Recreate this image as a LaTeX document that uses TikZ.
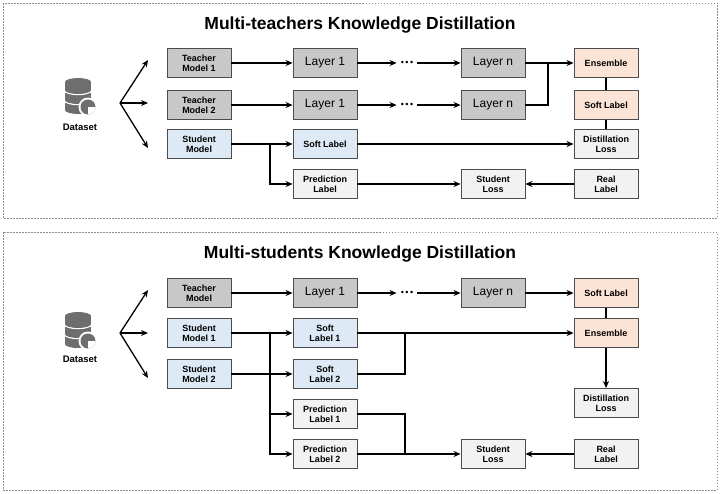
\documentclass[tikz,border=0pt]{standalone}
\usepackage{fontspec}
\setmainfont{Liberation Sans}
\usetikzlibrary{arrows.meta}
\definecolor{tgray}{HTML}{C8C8C8}
\definecolor{sblue}{HTML}{DDEAF6}
\definecolor{eorange}{HTML}{FBE4D5}
\definecolor{lgray}{HTML}{F2F2F2}
\definecolor{icon}{HTML}{6E6E6E}
\tikzset{
  box/.style={draw=black!70, line width=0.9pt, minimum width=64pt, minimum height=29pt, align=center, inner sep=1pt, font=\fontsize{9}{10}\selectfont\bfseries},
  teacher/.style={box, fill=tgray},
  layer/.style={box, fill=tgray, font=\fontsize{12}{13}\selectfont},
  student/.style={box, fill=sblue},
  orange/.style={box, fill=eorange},
  light/.style={box, fill=lgray},
  dots/.style={inner sep=4pt, font=\fontsize{9}{9}\selectfont},
  flow/.style={line width=1.3pt, -{Stealth[length=7pt,width=6pt]}},
  link/.style={line width=1.3pt},
  frame/.style={draw=black!45, dash pattern=on 1.5pt off 1.5pt, line width=0.7pt},
  title/.style={font=\fontsize{17.5}{18}\selectfont\bfseries}
}
\newcommand{\dbicon}[2]{%
  \begin{scope}[shift={(#1,#2)}]
    \foreach \dy in {8,-2,-12} {
      \draw[white, line width=2.4pt] (0,\dy+4) ellipse (13 and 4);
      \fill[icon] (-13,\dy-4) rectangle (13,\dy+4);
      \fill[icon] (0,\dy+4) ellipse (13 and 4);
      \fill[icon] (0,\dy-4) ellipse (13 and 4);
    }
    \fill[white] (10,9) circle (9.5);
    \fill[icon] (10,9) circle (7.5);
    \fill[white] (10,9) -- (17.5,9) arc (0:90:7.5) -- cycle;
  \end{scope}}
\begin{document}
\begin{tikzpicture}[x=1pt, y=-1pt]
\useasboundingbox (0,0) rectangle (720,493);
\fill[white] (0,0) rectangle (720,493);
\draw[frame] (3,3) rectangle (717,218);
\draw[frame] (3,232) rectangle (717,490);

% multi-teachers
\node[title] (tt) at (360,25) {Multi-teachers Knowledge Distillation};
\dbicon{78}{98}
\node[font=\fontsize{9.5}{10}\selectfont\bfseries] (ds1) at (80,127) {Dataset};
\coordinate (f1) at (120,103);
\coordinate (f1a) at (148,60);
\coordinate (f1b) at (148,103);
\coordinate (f1c) at (148,148);
\draw[flow] (f1) -- (f1a);
\draw[flow] (f1) -- (f1b);
\draw[flow] (f1) -- (f1c);

\node[teacher] (tm1) at (199,63) {Teacher\\Model 1};
\node[layer] (la1) at (325,63) {Layer 1};
\node[dots] (dt1) at (407,63) {\textbullet\,\textbullet\,\textbullet};
\node[layer] (ln1) at (493,63) {Layer n};
\node[orange] (ens1) at (606,63) {Ensemble};
\node[teacher] (tm2) at (199,105) {Teacher\\Model 2};
\node[layer] (la2) at (325,105) {Layer 1};
\node[dots] (dt2) at (407,105) {\textbullet\,\textbullet\,\textbullet};
\node[layer] (ln2) at (493,105) {Layer n};
\node[orange] (sl1) at (606,105) {Soft Label};
\node[student] (sm) at (199,144) {Student\\Model};
\node[student] (ss) at (325,144) {Soft Label};
\node[light] (dl1) at (606,144) {Distillation\\Loss};
\node[light] (pl) at (325,184) {Prediction\\Label};
\node[light] (sls1) at (493,184) {Student\\Loss};
\node[light] (rl1) at (606,184) {Real\\Label};

\draw[flow] (tm1) -- (la1);
\draw[flow] (la1) -- (dt1);
\draw[flow] (dt1) -- (ln1);
\draw[flow] (tm2) -- (la2);
\draw[flow] (la2) -- (dt2);
\draw[flow] (dt2) -- (ln2);
\draw[flow] (ln1) -- (ens1);
\coordinate (j1) at (548,63);
\draw[link] (ln2.east) -| (j1);
\draw[link] (ens1) -- (sl1);
\draw[link] (sl1) -- (dl1);
\coordinate (b1) at (270,144);
\draw[flow] (sm) -- (ss);
\draw[flow] (b1) |- (pl);
\draw[flow] (ss) -- (dl1);
\draw[flow] (pl) -- (sls1);
\draw[flow] (rl1) -- (sls1);

% multi-students
\node[title] (ts) at (360,254) {Multi-students Knowledge Distillation};
\dbicon{78}{332}
\node[font=\fontsize{9.5}{10}\selectfont\bfseries] (ds2) at (80,359) {Dataset};
\coordinate (f2) at (120,333);
\coordinate (f2a) at (148,290);
\coordinate (f2b) at (148,333);
\coordinate (f2c) at (148,378);
\draw[flow] (f2) -- (f2a);
\draw[flow] (f2) -- (f2b);
\draw[flow] (f2) -- (f2c);

\node[teacher] (tm) at (199,293) {Teacher\\Model};
\node[layer] (la3) at (325,293) {Layer 1};
\node[dots] (dt3) at (407,293) {\textbullet\,\textbullet\,\textbullet};
\node[layer] (ln3) at (493,293) {Layer n};
\node[orange] (sl2) at (606,293) {Soft Label};
\node[student] (sm1) at (199,333) {Student\\Model 1};
\node[student] (ss1) at (325,333) {Soft\\Label 1};
\node[orange] (ens2) at (606,333) {Ensemble};
\node[student] (sm2) at (199,374) {Student\\Model 2};
\node[student] (ss2) at (325,374) {Soft\\Label 2};
\node[light] (pl1) at (325,414) {Prediction\\Label 1};
\node[light] (dl2) at (606,403) {Distillation\\Loss};
\node[light] (pl2) at (325,454) {Prediction\\Label 2};
\node[light] (sls2) at (493,454) {Student\\Loss};
\node[light] (rl2) at (606,454) {Real\\Label};

\draw[flow] (tm) -- (la3);
\draw[flow] (la3) -- (dt3);
\draw[flow] (dt3) -- (ln3);
\draw[flow] (ln3) -- (sl2);
\draw[link] (sl2) -- (ens2);
\draw[flow] (ens2) -- (dl2);
\coordinate (b2) at (270,333);
\draw[flow] (sm1) -- (ss1);
\draw[flow] (b2) |- (pl1);
\draw[flow] (b2) |- (pl2);
\draw[flow] (sm2) -- (ss2);
\draw[flow] (ss1) -- (ens2);
\coordinate (j2) at (405,333);
\draw[link] (ss2.east) -| (j2);
\coordinate (j3) at (405,454);
\draw[link] (pl1.east) -| (j3);
\draw[flow] (pl2) -- (sls2);
\draw[flow] (rl2) -- (sls2);
\end{tikzpicture}
\end{document}
